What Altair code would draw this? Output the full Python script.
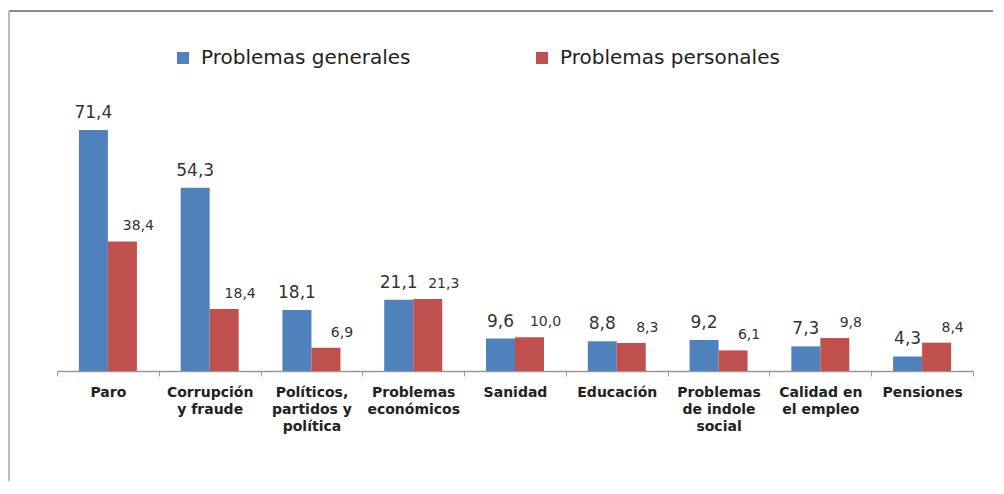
import altair as alt
import pandas as pd

categorias = [
    "Paro",
    "Corrupción\ny fraude",
    "Políticos,\npartidos y\npolítica",
    "Problemas\neconómicos",
    "Sanidad",
    "Educación",
    "Problemas\nde indole\nsocial",
    "Calidad en\nel empleo",
    "Pensiones",
]
generales = [71.4, 54.3, 18.1, 21.1, 9.6, 8.8, 9.2, 7.3, 4.3]
personales = [38.4, 18.4, 6.9, 21.3, 10.0, 8.3, 6.1, 9.8, 8.4]
series = ["Problemas generales", "Problemas personales"]
colores = ["#4F81BD", "#C0504D"]

n = len(categorias)
df = pd.DataFrame({
    "categoria": categorias * 2,
    "serie": [series[0]] * n + [series[1]] * n,
    "valor": generales + personales,
})
df["etiqueta"] = df["valor"].map(lambda v: f"{v:.1f}".replace(".", ","))

W, H = 916, 270
PAD = {"left": 49, "top": 93, "right": 20, "bottom": 110}

x_enc = alt.X(
    "categoria:N",
    sort=categorias,
    scale=alt.Scale(paddingInner=0, paddingOuter=0),
    axis=alt.Axis(
        title=None,
        labelAngle=0,
        labelFont="DejaVu Sans",
        labelFontWeight="bold",
        labelFontSize=14,
        labelColor="#222222",
        labelExpr="split(datum.label, '\\n')",
        labelLineHeight=17,
        labelBaseline="top",
        labelPadding=9,
        tickBand="extent",
        tickSize=5,
        tickColor="#999999",
        domainColor="#999999",
        domainWidth=1.5,
        labelLimit=0,
    ),
)
xoff = alt.XOffset("serie:N", sort=series,
                   scale=alt.Scale(paddingInner=0, paddingOuter=0.755))
y_enc = alt.Y("valor:Q", scale=alt.Scale(domain=[0, 80]), axis=None)

base = alt.Chart(df)

bars = base.mark_bar().encode(
    x=x_enc,
    xOffset=xoff,
    y=y_enc,
    color=alt.Color(
        "serie:N",
        sort=series,
        scale=alt.Scale(domain=series, range=colores),
        legend=alt.Legend(
            orient="none",
            legendX=116,
            legendY=-53,
            direction="horizontal",
            title=None,
            symbolType="square",
            symbolSize=144,
            symbolStrokeWidth=0,
            labelFont="DejaVu Sans",
            labelFontSize=20,
            labelColor="#222222",
            labelOffset=8,
            columnPadding=121,
            padding=0,
            labelLimit=400,
        ),
    ),
)

lab_gen = base.transform_filter(alt.datum.serie == series[0]).mark_text(
    font="DejaVu Sans", fontSize=17, color="#333333", baseline="alphabetic", dy=-12
).encode(x=x_enc, xOffset=xoff, y=y_enc, text="etiqueta:N")

lab_per = base.transform_filter(alt.datum.serie == series[1]).mark_text(
    font="DejaVu Sans", fontSize=14, color="#333333", baseline="alphabetic", dy=-11, dx=16
).encode(x=x_enc, xOffset=xoff, y=y_enc, text="etiqueta:N")

marco_df = pd.DataFrame({"k": [0]})
marco_sup = alt.Chart(marco_df).mark_rule(color="#8c8c8c", strokeWidth=2).encode(
    x=alt.value(-48), x2=alt.value(W + PAD["right"]), y=alt.value(-90)
)
marco_izq = alt.Chart(marco_df).mark_rule(color="#a6a6a6", strokeWidth=1.5).encode(
    x=alt.value(-48), y=alt.value(-90), y2=alt.value(H + PAD["bottom"])
)

chart = alt.layer(bars, lab_gen, lab_per, marco_sup, marco_izq).properties(
    width=W,
    height=H,
    autosize=alt.AutoSizeParams(type="none"),
    padding=PAD,
    background="white",
).configure_view(stroke=None)

chart.save("out.html", embed_options={"renderer": "svg", "actions": False})
